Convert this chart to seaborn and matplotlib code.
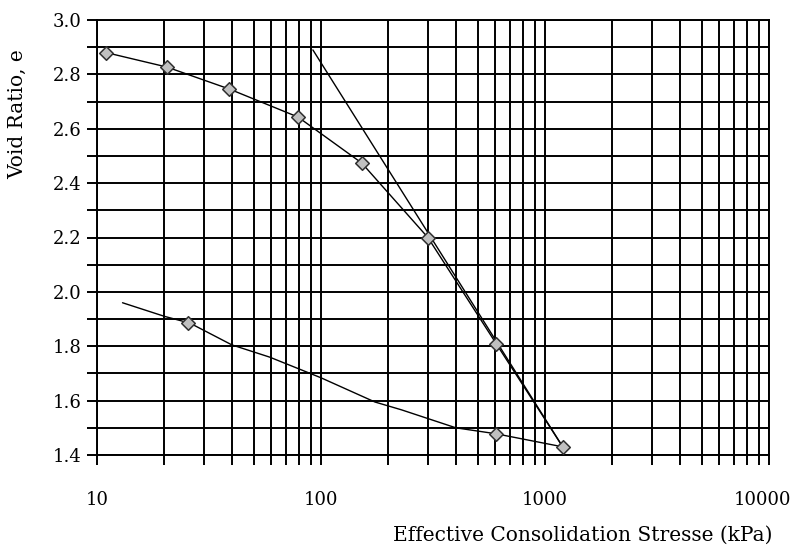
import matplotlib
matplotlib.use("Agg")
import matplotlib.pyplot as plt
import matplotlib.transforms as mtransforms
import seaborn as sns
import numpy as np
import pandas as pd
from matplotlib.ticker import LogLocator, MultipleLocator, FixedLocator, NullFormatter

# Loading test points
load_stress = [11, 20.5, 39, 79, 152, 300, 605, 1200]
load_void = [2.88, 2.827, 2.746, 2.643, 2.474, 2.20, 1.81, 1.43]

# Unloading trend curve and its markers
unload_curve_stress = [13, 20, 26, 40, 59, 100, 174, 229, 400, 605, 1200]
unload_curve_void = [1.96, 1.91, 1.885, 1.805, 1.76, 1.684, 1.595, 1.566, 1.50, 1.478, 1.43]
unload_pts_stress = [25.5, 605]
unload_pts_void = [1.886, 1.478]

# Virgin compression line
vcl_stress = [92, 1200]
vcl_void = [2.89, 1.43]

x_tick_labels = ["10", "100", "1000", "10000"]

sns.set_theme(style="white")
plt.rcParams['font.family'] = ['DejaVu Serif']

fig = plt.figure(figsize=(7.96, 5.46), dpi=100)
ax = fig.add_axes([97/796, 1-455/546, (769-97)/796, (455-20)/546])

load_df = pd.DataFrame({"s": load_stress, "e": load_void})
unl_df = pd.DataFrame({"s": unload_curve_stress, "e": unload_curve_void})
unp_df = pd.DataFrame({"s": unload_pts_stress, "e": unload_pts_void})
vcl_df = pd.DataFrame({"s": vcl_stress, "e": vcl_void})

ax.set_xscale("log")
sns.lineplot(data=load_df, x="s", y="e", ax=ax, color="black", lw=1.0, sort=False, zorder=3)
sns.lineplot(data=unl_df, x="s", y="e", ax=ax, color="black", lw=1.0, sort=False, zorder=3)
sns.lineplot(data=vcl_df, x="s", y="e", ax=ax, color="black", lw=1.0, sort=False, zorder=3)
sns.scatterplot(data=load_df, x="s", y="e", ax=ax, marker="D", s=48, color="#c0c0c0",
                edgecolor="#303030", linewidth=1.1, zorder=4)
sns.scatterplot(data=unp_df, x="s", y="e", ax=ax, marker="D", s=48, color="#c0c0c0",
                edgecolor="#303030", linewidth=1.1, zorder=4)

ax.set_xlim(10, 10000)
ax.set_ylim(1.4, 3.0)

ax.xaxis.set_major_locator(FixedLocator([10, 100, 1000, 10000]))
ax.xaxis.set_minor_locator(LogLocator(base=10, subs=np.arange(2, 10)))
ax.xaxis.set_minor_formatter(NullFormatter())
ax.set_xticklabels(x_tick_labels)
ax.yaxis.set_major_locator(MultipleLocator(0.2))
ax.yaxis.set_minor_locator(MultipleLocator(0.1))
ax.yaxis.set_major_formatter(matplotlib.ticker.FormatStrFormatter("%.1f"))

ax.grid(True, which="both", color="black", lw=1.4)
for sp in ax.spines.values():
    sp.set_color("black")
    sp.set_linewidth(1.4)

ax.tick_params(axis="both", which="both", direction="out", color="black", width=1.4,
               length=7, left=True, bottom=True, labelsize=13, labelcolor="black")
ax.tick_params(axis="x", which="major", pad=19)
ax.tick_params(axis="y", which="major", pad=4)

# nudge the last x tick label slightly left, as in the reference
last = ax.get_xticklabels()[-1]
last.set_transform(last.get_transform() + mtransforms.ScaledTranslation(-7/100, 0, fig.dpi_scale_trans))

ax.set_xlabel("Effective Consolidation Stresse (kPa)", fontsize=14.5, color="black")
ax.set_ylabel("Void Ratio, e", fontsize=14.5, color="black")
ax.xaxis.set_label_coords(1.005, -0.184)
ax.xaxis.label.set_horizontalalignment("right")
ax.xaxis.label.set_verticalalignment("center")
ax.yaxis.set_label_coords(-0.118, 0.784)
ax.yaxis.label.set_verticalalignment("center")

fig.savefig("out.png", dpi=100, facecolor="white")
